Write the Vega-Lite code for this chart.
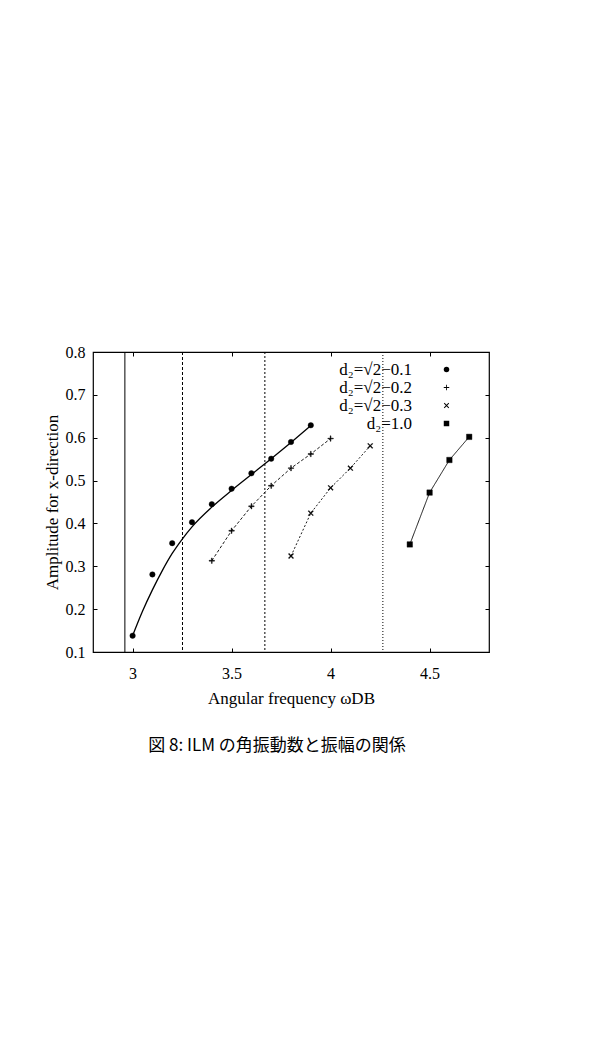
{
  "$schema": "https://vega.github.io/schema/vega-lite/v6.json",
  "width": 396,
  "height": 300,
  "autosize": "none",
  "padding": {"left": 93, "top": 352, "right": 112, "bottom": 411},
  "background": "white",
  "config": {
    "view": {"stroke": "black", "strokeWidth": 1.2},
    "font": "Liberation Serif",
    "axis": {"grid": false, "domain": false, "tickColor": "black", "tickSize": -4, "tickWidth": 1, "labelColor": "black", "titleColor": "black", "labelFont": "Liberation Serif", "titleFont": "Liberation Serif", "titleFontWeight": "normal"}
  },
  "title": {"text": "図 8: ILM の角振動数と振幅の関係", "orient": "bottom", "font": "Noto Sans CJK JP", "fontSize": 17, "fontWeight": "normal", "color": "black", "offset": 32, "dx": -14},
  "datasets": {
    "points": [
      {"series": "d₂=√2−0.1", "x": 3.0, "y": 0.138},
      {"series": "d₂=√2−0.1", "x": 3.1, "y": 0.281},
      {"series": "d₂=√2−0.1", "x": 3.2, "y": 0.354},
      {"series": "d₂=√2−0.1", "x": 3.3, "y": 0.403},
      {"series": "d₂=√2−0.1", "x": 3.4, "y": 0.445},
      {"series": "d₂=√2−0.1", "x": 3.5, "y": 0.481},
      {"series": "d₂=√2−0.1", "x": 3.6, "y": 0.517},
      {"series": "d₂=√2−0.1", "x": 3.7, "y": 0.551},
      {"series": "d₂=√2−0.1", "x": 3.8, "y": 0.590},
      {"series": "d₂=√2−0.1", "x": 3.9, "y": 0.629},
      {"series": "d₂=√2−0.2", "x": 3.4, "y": 0.313},
      {"series": "d₂=√2−0.2", "x": 3.5, "y": 0.383},
      {"series": "d₂=√2−0.2", "x": 3.6, "y": 0.440},
      {"series": "d₂=√2−0.2", "x": 3.7, "y": 0.488},
      {"series": "d₂=√2−0.2", "x": 3.8, "y": 0.529},
      {"series": "d₂=√2−0.2", "x": 3.9, "y": 0.562},
      {"series": "d₂=√2−0.2", "x": 4.0, "y": 0.598},
      {"series": "d₂=√2−0.3", "x": 3.8, "y": 0.324},
      {"series": "d₂=√2−0.3", "x": 3.9, "y": 0.424},
      {"series": "d₂=√2−0.3", "x": 4.0, "y": 0.483},
      {"series": "d₂=√2−0.3", "x": 4.1, "y": 0.529},
      {"series": "d₂=√2−0.3", "x": 4.2, "y": 0.581},
      {"series": "d₂=1.0", "x": 4.4, "y": 0.351},
      {"series": "d₂=1.0", "x": 4.5, "y": 0.472},
      {"series": "d₂=1.0", "x": 4.6, "y": 0.548},
      {"series": "d₂=1.0", "x": 4.7, "y": 0.602}
    ],
    "curve": [
      {"x": 3.0, "y": 0.138},
      {"x": 3.05, "y": 0.195},
      {"x": 3.1, "y": 0.245},
      {"x": 3.15, "y": 0.29},
      {"x": 3.2, "y": 0.33},
      {"x": 3.25, "y": 0.363},
      {"x": 3.3, "y": 0.392},
      {"x": 3.4, "y": 0.438},
      {"x": 3.5, "y": 0.477},
      {"x": 3.6, "y": 0.514},
      {"x": 3.7, "y": 0.551},
      {"x": 3.8, "y": 0.589},
      {"x": 3.9, "y": 0.628}
    ],
    "vlines": [
      {"x": 2.961, "kind": "a"},
      {"x": 3.252, "kind": "b"},
      {"x": 3.668, "kind": "c"},
      {"x": 4.264, "kind": "d"}
    ]
  },
  "resolve": {"axis": {"x": "independent", "y": "independent"}, "scale": {"strokeDash": "independent"}},
  "layer": [
    {
      "data": {"name": "vlines"},
      "mark": {"type": "rule", "color": "black", "strokeWidth": 1},
      "encoding": {
        "x": {"field": "x", "type": "quantitative", "scale": {"domain": [2.8, 4.8], "nice": false, "zero": false}, "axis": null},
        "strokeDash": {"field": "kind", "type": "nominal", "scale": {"domain": ["a", "b", "c", "d"], "range": [[1, 0], [3, 2], [2, 2], [1, 2]]}, "legend": null}
      }
    },
    {
      "data": {"name": "curve"},
      "mark": {"type": "line", "color": "black", "strokeWidth": 1.3, "interpolate": "monotone"},
      "encoding": {
        "x": {"field": "x", "type": "quantitative", "scale": {"domain": [2.8, 4.8], "nice": false, "zero": false},
          "axis": {"orient": "top", "values": [3, 3.5, 4, 4.5], "labels": false, "title": null}},
        "y": {"field": "y", "type": "quantitative", "scale": {"domain": [0.1, 0.8], "nice": false, "zero": false},
          "axis": {"orient": "right", "values": [0.1, 0.2, 0.3, 0.4, 0.5, 0.6, 0.7, 0.8], "labels": false, "title": null}}
      }
    },
    {
      "data": {"name": "points"},
      "transform": [{"filter": "datum.series !== 'd₂=√2−0.1'"}],
      "mark": {"type": "line", "color": "black", "strokeWidth": 0.9},
      "encoding": {
        "x": {"field": "x", "type": "quantitative", "axis": null},
        "y": {"field": "y", "type": "quantitative", "axis": null},
        "detail": {"field": "series"},
        "strokeDash": {"field": "series", "type": "nominal", "scale": {"domain": ["d₂=√2−0.2", "d₂=√2−0.3", "d₂=1.0"], "range": [[3, 2], [2, 2], [1, 0]]}, "legend": null}
      }
    },
    {
      "data": {"name": "points"},
      "mark": {"type": "point", "filled": true, "color": "black", "fill": "black", "stroke": "black", "strokeWidth": 0.4, "opacity": 1, "size": 30},
      "encoding": {
        "x": {"field": "x", "type": "quantitative",
          "axis": {"orient": "bottom", "values": [3, 3.5, 4, 4.5], "format": "~g", "labelFont": "Liberation Serif", "labelFontSize": 16, "labelPadding": 17, "title": "Angular frequency ωDB", "titleFont": "Liberation Serif", "titleFontSize": 17, "titlePadding": 9}},
        "y": {"field": "y", "type": "quantitative",
          "axis": {"orient": "left", "values": [0.1, 0.2, 0.3, 0.4, 0.5, 0.6, 0.7, 0.8], "format": ".1f", "labelFont": "Liberation Serif", "labelFontSize": 16, "labelPadding": 12, "title": "Amplitude for x-direction", "titleFont": "Liberation Serif", "titleFontSize": 17, "titlePadding": 4}},
        "shape": {"field": "series", "type": "nominal",
          "scale": {"domain": ["d₂=√2−0.1", "d₂=√2−0.2", "d₂=√2−0.3", "d₂=1.0"], "range": ["circle", "M-1,-0.15L-0.15,-0.15L-0.15,-1L0.15,-1L0.15,-0.15L1,-0.15L1,0.15L0.15,0.15L0.15,1L-0.15,1L-0.15,0.15L-1,0.15Z", "M0.73,0.97L0.97,0.73L0.24,0L0.97,-0.73L0.73,-0.97L0,-0.24L-0.73,-0.97L-0.97,-0.73L-0.24,0L-0.97,0.73L-0.73,0.97L0,0.24Z", "square"]},
          "legend": {"orient": "none", "legendX": 345, "legendY": 9, "title": null, "labelFont": "Liberation Serif", "labelFontSize": 17, "labelColor": "black", "labelAlign": "right", "labelOffset": -43, "rowPadding": 0, "symbolFillColor": "black", "symbolStrokeColor": "black", "symbolStrokeWidth": 0.4, "symbolSize": 30}}
      }
    }
  ]
}
